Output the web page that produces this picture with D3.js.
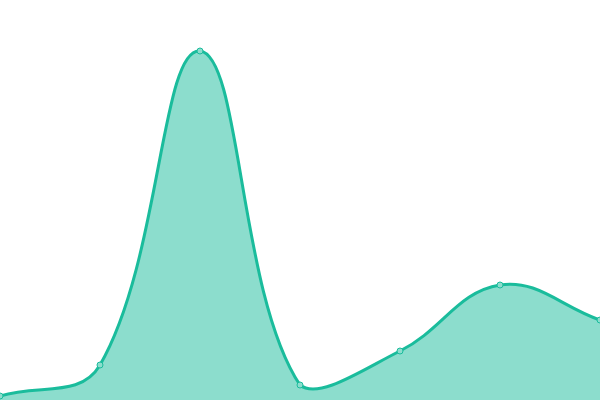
<!DOCTYPE html>
<html>
<head>
<meta charset="utf-8">
<script src="https://cdn.jsdelivr.net/npm/d3@7"></script>
<style>
  html, body { margin: 0; padding: 0; background: #fff; }
  svg { display: block; }
</style>
</head>
<body>
<div id="chart"></div>
<script>
// chart data
const categories = ['A', 'B', 'C', 'D', 'E', 'F', 'G']
const values = [4, 35, 349, 15, 49, 115, 80]

const width = 600
const height = 400

// spline with distance-weighted control points, clamped to the plot area
function TensionCurve(context, tension) {
  this._context = context
  this._t = tension
}
TensionCurve.prototype = {
  areaStart: function() { this._line = 0 },
  areaEnd: function() { this._line = NaN },
  lineStart: function() { this._pts = [] },
  point: function(px, py) { this._pts.push([+px, +py]) },
  lineEnd: function() {
    const p = this._pts, c = this._context, n = p.length, t = this._t
    if (n) {
      if (this._line) c.lineTo(p[0][0], p[0][1])
      else c.moveTo(p[0][0], p[0][1])
      const cp = p.map((cur, i) => {
        const prev = p[Math.max(i - 1, 0)], next = p[Math.min(i + 1, n - 1)]
        const d01 = Math.hypot(cur[0] - prev[0], cur[1] - prev[1])
        const d12 = Math.hypot(next[0] - cur[0], next[1] - cur[1])
        let s01 = d01 / (d01 + d12), s12 = d12 / (d01 + d12)
        if (isNaN(s01)) s01 = 0
        if (isNaN(s12)) s12 = 0
        const fa = t * s01, fb = t * s12
        const clamp = (v, lo, hi) => Math.max(lo, Math.min(hi, v))
        return {
          inX: clamp(cur[0] - fa * (next[0] - prev[0]), 0, width),
          inY: clamp(cur[1] - fa * (next[1] - prev[1]), 0, height),
          outX: clamp(cur[0] + fb * (next[0] - prev[0]), 0, width),
          outY: clamp(cur[1] + fb * (next[1] - prev[1]), 0, height)
        }
      })
      for (let i = 1; i < n; i++) {
        c.bezierCurveTo(cp[i - 1].outX, cp[i - 1].outY, cp[i].inX, cp[i].inY, p[i][0], p[i][1])
      }
    }
    if (this._line || (this._line !== 0 && n === 1)) c.closePath()
    this._line = 1 - this._line
  }
}
const curve = ctx => new TensionCurve(ctx, 0.4)

const svg = d3.select('#chart').append('svg')
  .attr('width', width)
  .attr('height', height)

const x = d3.scalePoint()
  .domain(categories)
  .range([0, width])

const y = d3.scaleLinear()
  .domain([0, 400])
  .range([height, 0])

const data = categories.map((c, i) => ({ cat: c, val: values[i] }))

const area = d3.area()
  .x(d => x(d.cat))
  .y0(y(0))
  .y1(d => y(d.val))
  .curve(curve)

const line = d3.line()
  .x(d => x(d.cat))
  .y(d => y(d.val))
  .curve(curve)

svg.append('path')
  .datum(data)
  .attr('d', area)
  .attr('fill', 'rgba(26,188,156,0.5)')

svg.append('path')
  .datum(data)
  .attr('d', line)
  .attr('fill', 'none')
  .attr('stroke', '#1abc9c')
  .attr('stroke-width', 3)

svg.selectAll('circle')
  .data(data)
  .enter().append('circle')
    .attr('cx', d => x(d.cat))
    .attr('cy', d => y(d.val))
    .attr('r', 3)
    .attr('fill', '#8cddcd')
    .attr('stroke', '#1abc9c')
    .attr('stroke-width', 1)
</script>
</body>
</html>
